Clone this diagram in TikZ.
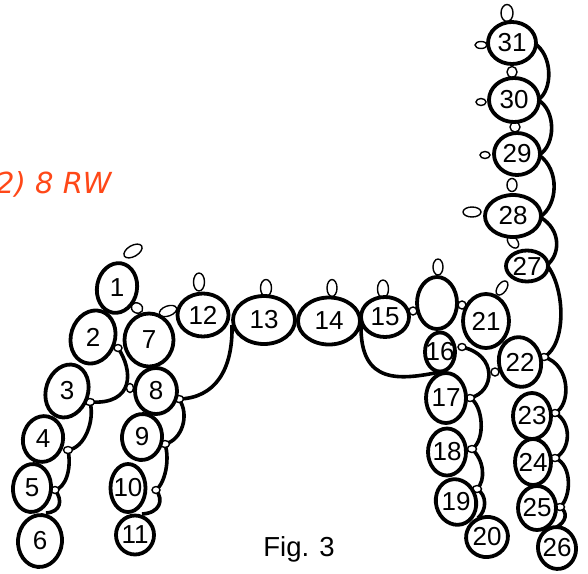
\documentclass[tikz,border=0pt]{standalone}
\usepackage{fontspec}
\setmainfont{Liberation Sans}
\newfontfamily\rwfont{DejaVu Sans}
\usetikzlibrary{shapes.geometric}
\pgfdeclarelayer{bg}
\pgfdeclarelayer{mid}
\pgfsetlayers{bg,mid,main}
\definecolor{rwred}{RGB}{255,72,24}
\tikzset{
  ringnode/.style={draw, ellipse, line width=3.8pt, fill=white, inner sep=0pt},
  picot/.style={draw, ellipse, line width=1.4pt, fill=white, inner sep=0pt},
  chainline/.style={line width=3.6pt},
  numtext/.style={font=\fontsize{26}{30}\selectfont, inner sep=0pt},
  figtext/.style={font=\fontsize{27.5}{32}\selectfont, inner sep=0pt, anchor=base},
  rwtext/.style={font=\rwfont\itshape\fontsize{29}{34}\selectfont, text=rwred, inner sep=0pt, anchor=base west},
}
\newcommand{\myring}[7]{%
  \node[ringnode, minimum width={2*#4pt}, minimum height={2*#5pt}, rotate=#6] (#1) at (#2,#3) {};
  \node[numtext] (#1t) at (#1.center) {#7};
}
\newcommand{\mypicot}[6]{%
  \node[picot, minimum width={2*#4pt}, minimum height={2*#5pt}, rotate=#6] (#1) at (#2,#3) {};
}
\begin{document}
\begin{tikzpicture}[x=1pt,y=-1pt]
\useasboundingbox (0,0) rectangle (588,573);

% rings
\myring{r1}{117}{288}{20}{25}{-10}{1}
\myring{r2}{93}{337}{22}{27}{-18}{2}
\myring{r3}{67}{391}{21}{27}{-18}{3}
\myring{r4}{43}{439}{20}{23}{-12}{4}
\myring{r5}{32}{488}{19}{24}{-5}{5}
\myring{r6}{40}{541}{22}{26}{-5}{6}
\myring{r7}{149}{340}{24.5}{26.5}{0}{7}
\myring{r8}{156}{391}{21}{23}{0}{8}
\myring{r9}{142}{437}{20}{23}{-5}{9}
\myring{r10}{128}{488}{17.5}{24}{0}{10}
\myring{r11}{135}{535}{19}{19.5}{0}{11}
\myring{r12}{203}{315}{25.5}{21.5}{0}{12}
\myring{r13}{264}{320}{31}{24}{0}{13}
\myring{r14}{329}{321}{31}{23.5}{0}{14}
\myring{r15}{385}{317}{24}{20}{0}{15}
\myring{rx}{437}{303}{20}{26}{0}{}
\myring{r16}{440}{352}{15}{19.5}{0}{16}
\myring{r17}{446}{398}{20}{25}{0}{17}
\myring{r18}{447}{452}{19}{23.5}{0}{18}
\myring{r19}{456}{502}{20}{23}{15}{19}
\myring{r20}{487}{537}{21}{20}{15}{20}
\myring{r21}{486}{321}{23}{27}{0}{21}
\myring{r22}{520}{362}{21}{25}{12}{22}
\myring{r23}{532}{416}{19}{23}{0}{23}
\myring{r24}{533}{462}{18}{23}{0}{24}
\myring{r25}{537}{508}{19}{22}{0}{25}
\myring{r26}{557}{548}{19}{21}{10}{26}
\myring{r27}{527}{266}{21}{15.5}{0}{27}
\myring{r28}{513}{216}{28}{21}{0}{28}
\myring{r29}{517}{154}{23}{21}{0}{29}
\myring{r30}{514}{100}{25}{22}{0}{30}
\myring{r31}{512}{43}{24}{21}{0}{31}

% picots
\begin{pgfonlayer}{mid}
\mypicot{p1t}{133}{251}{10}{5.5}{30}
\mypicot{p1s}{137}{308}{6}{5}{-30}
\mypicot{p7s}{168}{311}{9}{5}{20}
\mypicot{p2r}{118}{348}{4}{3.5}{0}
\mypicot{p8l}{130}{388}{3.5}{4.5}{0}
\mypicot{p3r}{90}{402}{4.5}{3.5}{0}
\mypicot{p8r}{179}{399}{4.5}{3.5}{0}
\mypicot{p4r}{68}{450}{4.5}{3.5}{0}
\mypicot{p9r}{165}{444}{4.5}{3.5}{0}
\mypicot{p5r}{55}{490}{4}{3.5}{0}
\mypicot{p10r}{156}{490}{4}{3.5}{0}
\mypicot{p12t}{199}{282}{5.5}{9}{0}
\mypicot{p13t}{266}{288}{5.5}{8.5}{0}
\mypicot{p14t}{332}{288}{5}{8.5}{0}
\mypicot{p15t}{383}{289}{5.5}{9}{0}
\mypicot{p15r}{413}{311}{4}{4}{0}
\mypicot{pxt}{438}{267}{5}{8}{0}
\mypicot{pxr}{462}{305}{4}{4}{0}
\mypicot{p16r}{462}{347}{4}{3.5}{0}
\mypicot{p17r}{470}{398}{4.5}{3.5}{0}
\mypicot{p22l}{495}{372}{4}{4}{0}
\mypicot{p22r}{544}{357}{4.5}{3.5}{0}
\mypicot{p18r}{472}{449}{4.5}{3.5}{0}
\mypicot{p19r}{477}{489}{4.5}{3.5}{0}
\mypicot{p23r}{555}{413}{4.5}{3.5}{0}
\mypicot{p24r}{555}{458}{4.5}{3.5}{0}
\mypicot{p25r}{560}{507}{4.5}{3.5}{0}
\mypicot{p21s}{502}{288}{8}{4.5}{55}
\mypicot{p31t}{507}{13}{6}{8.5}{0}
\mypicot{p31l}{481}{45}{6}{3.5}{0}
\mypicot{p31s}{512}{72}{5}{5.5}{0}
\mypicot{p30l}{481}{102}{5}{3.5}{0}
\mypicot{p30s}{515}{127}{5}{5}{0}
\mypicot{p29l}{485}{155}{5}{3.5}{0}
\mypicot{p29s}{512}{185}{5}{6.5}{0}
\mypicot{p28l}{472}{212}{9}{5}{0}
\mypicot{p28s}{513}{242}{7}{4.5}{-50}
\end{pgfonlayer}

% junction points
\coordinate (j56) at (46,513);
\coordinate (j1011) at (142,514);
\coordinate (j1213) at (232,325);
\coordinate (j1415) at (361,325);
\coordinate (j1617) at (440,372);
\coordinate (j1920) at (478,518);
\coordinate (j2526) at (555,528);
\coordinate (j31r) at (534,43);
\coordinate (j30r) at (538,100);
\coordinate (j29r) at (539,155);
\coordinate (j28r) at (540,217);
\coordinate (j27r) at (547,265);

% chains
\begin{pgfonlayer}{bg}
\draw[chainline] (p2r.center) .. controls (133,370) and (135,405) .. (p3r.center);
\draw[chainline] (p3r.center) .. controls (95,420) and (85,448) .. (p4r.center);
\draw[chainline] (p4r.center) .. controls (72,470) and (65,488) .. (p5r.center);
\draw[chainline] (p5r.center) .. controls (63,500) and (61,512) .. (j56);
\draw[chainline] (p8r.center) .. controls (190,415) and (182,440) .. (p9r.center);
\draw[chainline] (p9r.center) .. controls (170,460) and (165,483) .. (p10r.center);
\draw[chainline] (p10r.center) .. controls (164,500) and (160,513) .. (j1011);
\draw[chainline] (j1213) .. controls (233,370) and (215,398) .. (p8r.center);
\draw[chainline] (j1415) .. controls (360,385) and (400,380) .. (j1617);
\draw[chainline] (p16r.center) .. controls (498,355) and (495,392) .. (p17r.center);
\draw[chainline] (p17r.center) .. controls (483,405) and (486,440) .. (p18r.center);
\draw[chainline] (p18r.center) .. controls (484,460) and (486,480) .. (p19r.center);
\draw[chainline] (p19r.center) .. controls (487,495) and (487,510) .. (j1920);
\draw[chainline] (j27r) .. controls (566,290) and (566,345) .. (p22r.center);
\draw[chainline] (p22r.center) .. controls (571,365) and (571,405) .. (p23r.center);
\draw[chainline] (p23r.center) .. controls (572,422) and (571,450) .. (p24r.center);
\draw[chainline] (p24r.center) .. controls (573,465) and (571,498) .. (p25r.center);
\draw[chainline] (p25r.center) .. controls (568,512) and (567,522) .. (j2526);
\draw[chainline] (j31r) .. controls (553,55) and (553,90) .. (j30r);
\draw[chainline] (j30r) .. controls (556,110) and (556,145) .. (j29r);
\draw[chainline] (j29r) .. controls (560,170) and (558,205) .. (j28r);
\draw[chainline] (j28r) .. controls (562,230) and (560,255) .. (j27r);
\end{pgfonlayer}

% texts
\node[figtext] (fig) at (299,556) {Fig. 3};
\node[rwtext] (rw) at (-4,193) {2) 8 RW};
\end{tikzpicture}
\end{document}
